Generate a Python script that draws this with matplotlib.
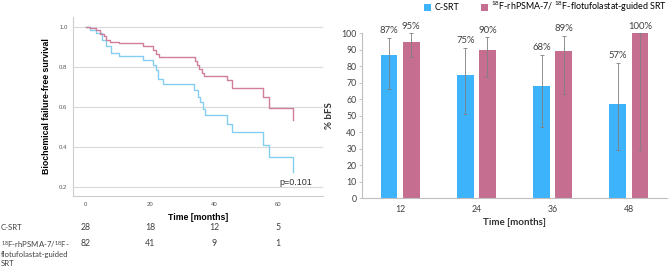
import matplotlib
matplotlib.use('Agg')
from matplotlib import pyplot as plt
from matplotlib import transforms as mtrans
import numpy as np

# KM curves (time in months, survival)
t_c = [0, 1.3, 3.3, 5.0, 6.3, 8.0, 10.4, 17.9, 21.0, 22.0, 22.6, 24.0, 33.8, 35.0, 35.6, 36.6, 37.2, 44.2, 45.7, 55.4, 57.3, 64.5]
s_c = [1.0, 0.987, 0.97, 0.933, 0.903, 0.87, 0.853, 0.833, 0.81, 0.783, 0.74, 0.713, 0.683, 0.65, 0.625, 0.592, 0.558, 0.517, 0.475, 0.412, 0.35, 0.275]
t_p = [0, 1.3, 3.3, 4.4, 5.6, 6.3, 7.5, 10.4, 17.9, 21.0, 22.0, 22.8, 24.0, 34.0, 34.6, 35.4, 36.1, 36.9, 37.2, 44.2, 45.5, 55.2, 57.3, 64.5]
s_p = [1.0, 0.995, 0.987, 0.967, 0.953, 0.937, 0.925, 0.92, 0.903, 0.883, 0.867, 0.85, 0.85, 0.83, 0.81, 0.79, 0.77, 0.753, 0.753, 0.733, 0.697, 0.65, 0.597, 0.533]

risk_times = [0, 20, 40, 60]
risk_c = [28, 18, 12, 5]
risk_p = [82, 41, 9, 1]

# bar chart
months = ['12', '24', '36', '48']
bfs_c = [87, 75, 68, 57]
bfs_p = [95, 90, 89, 100]
lo_c = [66, 51, 43, 29]
hi_c = [97, 91, 87, 82]
lo_p = [85.5, 73.5, 63.5, 29.5]
hi_p = [100, 97.5, 98.5, 100]

BLUE_KM = '#86cdf2'
RED_KM = '#cf7f9b'
BLUE = '#3db3fb'
PINK = '#c56e90'
TXT = '#404040'

plt.rcParams['font.family'] = ['Liberation Sans', 'DejaVu Sans']
plt.rcParams['mathtext.fontset'] = 'custom'
plt.rcParams['mathtext.rm'] = 'Lato'
plt.rcParams['mathtext.default'] = 'regular'

fig = plt.figure(figsize=(6.68, 2.67), dpi=100)
W, H = 668.0, 267.0

# ---- left: Kaplan-Meier ----
ax = fig.add_axes([73 / W, 1 - 196 / H, 250 / W, 179 / H])
ax.step(t_c, s_c, where='post', color=BLUE_KM, lw=1.0)
ax.step(t_p, s_p, where='post', color=RED_KM, lw=1.0)
ax.set_xlim(-4, 74)
ax.set_ylim(0.155, 1.05)
ax.set_yticks([0.2, 0.4, 0.6, 0.8, 1.0])
ax.set_yticklabels(['0.2', '0.4', '0.6', '0.8', '1.0'])
ax.set_xticks(risk_times)
ax.tick_params(length=0, labelsize=4.3, labelcolor='#555555', pad=4)
ax.grid(axis='y', color='#d9d9d9', lw=0.8)
ax.set_axisbelow(True)
for s in ['top', 'right']:
    ax.spines[s].set_visible(False)
for s in ['left', 'bottom']:
    ax.spines[s].set_color('#cccccc')
    ax.spines[s].set_linewidth(0.8)
ax.set_ylabel('Biochemical failure-free survival', fontsize=6.3, fontweight='bold', labelpad=6)
ax.set_xlabel('Time [months]', fontsize=6.3, fontweight='bold', labelpad=5)
ax.text(60.5, 0.21, 'p=0.101', fontsize=6.5, color='#333333')

# risk table
tr = mtrans.blended_transform_factory(ax.transData, fig.transFigure)
fam = ['Lato', 'DejaVu Sans']
fs_tab = 5.6
for x, n in zip(risk_times, risk_c):
    ax.text(x, 1 - 228 / H, str(n), transform=tr, ha='center', va='center', fontsize=6.3, color=TXT, family=fam)
for x, n in zip(risk_times, risk_p):
    ax.text(x, 1 - 244 / H, str(n), transform=tr, ha='center', va='center', fontsize=6.3, color=TXT, family=fam)
fig.text(1 / W, 1 - 228 / H, 'C-SRT', va='center', fontsize=fs_tab, color=TXT, family=fam)
fig.text(1 / W, 1 - 244 / H, '$^{18}$F-rhPSMA-7/$^{18}$F-', va='center', fontsize=fs_tab, color=TXT, family=fam)
fig.text(1 / W, 1 - 254 / H, 'flotufolastat-guided', va='center', fontsize=fs_tab, color=TXT, family=fam)
fig.text(1 / W, 1 - 263 / H, 'SRT', va='center', fontsize=fs_tab, color=TXT, family=fam)

# ---- right: bars ----
bx = fig.add_axes([362 / W, 1 - 198.3 / H, 305 / W, 165 / H])
x = np.arange(len(months))
bw = 0.22
off = 0.145
xc = x - off
xp = x + off
bx.bar(xc, bfs_c, bw, color=BLUE, label='C-SRT', zorder=2)
bx.bar(xp, bfs_p, bw, color=PINK, label='$^{18}$F-rhPSMA-7/ $^{18}$F-flotufolastat-guided SRT', zorder=2)
ec = np.array([np.array(bfs_c) - np.array(lo_c), np.array(hi_c) - np.array(bfs_c)])
ep = np.array([np.array(bfs_p) - np.array(lo_p), np.array(hi_p) - np.array(bfs_p)])
bx.errorbar(xc, bfs_c, yerr=ec, fmt='none', ecolor='#7f7f7f', elinewidth=0.6, capsize=1.5, capthick=0.6, zorder=3)
bx.errorbar(xp, bfs_p, yerr=ep, fmt='none', ecolor='#7f7f7f', elinewidth=0.6, capsize=1.5, capthick=0.6, zorder=3)
for xi, v, h in zip(xc, bfs_c, hi_c):
    bx.annotate(f'{v}%', (xi, h), xytext=(0, 2), textcoords='offset points', ha='center', va='bottom',
                fontsize=6.8, color=TXT, family=fam, annotation_clip=False)
for xi, v, h in zip(xp, bfs_p, hi_p):
    bx.annotate(f'{v}%', (xi, h), xytext=(0, 2), textcoords='offset points', ha='center', va='bottom',
                fontsize=6.8, color=TXT, family=fam, annotation_clip=False)
bx.set_xlim(-0.5, 3.5)
bx.set_ylim(0, 100)
bx.set_yticks(range(0, 101, 10))
bx.set_xticks(x)
bx.set_xticklabels(months)
bx.tick_params(axis='y', length=2, width=0.6, color='#bfbfbf', labelsize=6.3, labelcolor=TXT, pad=2)
bx.tick_params(axis='x', length=0, labelsize=6.3, labelcolor=TXT, pad=5)
for lab in bx.get_xticklabels() + bx.get_yticklabels():
    lab.set_family(fam)
for s in ['top', 'right']:
    bx.spines[s].set_visible(False)
for s in ['left', 'bottom']:
    bx.spines[s].set_color('#bfbfbf')
    bx.spines[s].set_linewidth(0.8)
bx.set_ylabel('% bFS', fontsize=7, fontweight='bold', color='#333333', family=fam, labelpad=5)
bx.set_xlabel('Time [months]', fontsize=7, fontweight='bold', color='#333333', family=fam, labelpad=3)
fig.legend(*bx.get_legend_handles_labels(), loc='center left', bbox_to_anchor=(424 / W, 1 - 7 / H), ncol=2,
           frameon=False, prop={'family': fam, 'size': 6.4}, handlelength=0.8, handleheight=0.8,
           columnspacing=2.4, handletextpad=0.4, borderaxespad=0, borderpad=0)

fig.savefig('out.png', dpi=100)
